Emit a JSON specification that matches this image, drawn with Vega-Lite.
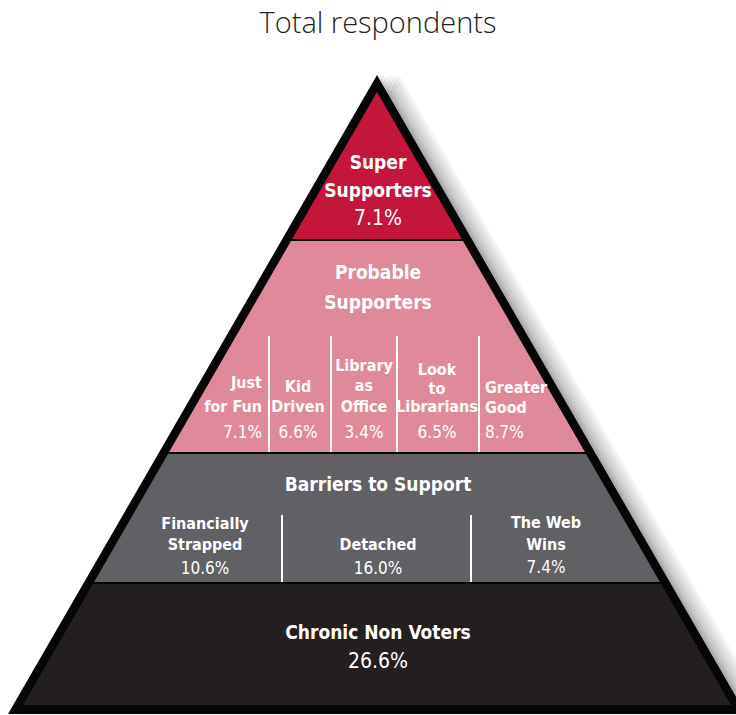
{
  "$schema": "https://vega.github.io/schema/vega-lite/v6.json",
  "width": 736,
  "height": 715,
  "padding": 0,
  "autosize": "none",
  "background": "white",
  "config": {"view": {"stroke": null}},
  "datasets": {
    "outline": [
      {"y": 75, "xl": 377, "xr": 377},
      {"y": 714, "xl": 8, "xr": 746}
    ],
    "tiers": [
      {"tier": "Super Supporters", "y": 92, "xl": 377, "xr": 377},
      {"tier": "Super Supporters", "y": 239, "xl": 292.1, "xr": 461.9},
      {"tier": "Probable Supporters", "y": 241, "xl": 291, "xr": 463},
      {"tier": "Probable Supporters", "y": 452, "xl": 169.1, "xr": 584.9},
      {"tier": "Barriers to Support", "y": 454, "xl": 168, "xr": 586},
      {"tier": "Barriers to Support", "y": 582, "xl": 94.1, "xr": 659.9},
      {"tier": "Chronic Non Voters", "y": 584, "xl": 92.9, "xr": 661.1},
      {"tier": "Chronic Non Voters", "y": 705, "xl": 23.1, "xr": 730.9}
    ],
    "dividers": [
      {"x": 269, "y1": 336, "y2": 452},
      {"x": 331, "y1": 336, "y2": 452},
      {"x": 397, "y1": 336, "y2": 452},
      {"x": 479, "y1": 336, "y2": 452},
      {"x": 282, "y1": 515, "y2": 582},
      {"x": 471, "y1": 515, "y2": 582}
    ],
    "labels": [
      {"level": "tier", "segment": "Super Supporters", "kind": "name", "text": "Super", "x": 378, "y": 163},
      {"level": "tier", "segment": "Super Supporters", "kind": "name", "text": "Supporters", "x": 378, "y": 191},
      {"level": "tier", "segment": "Super Supporters", "kind": "pct", "text": "7.1%", "x": 378, "y": 219},
      {"level": "tier", "segment": "Probable Supporters", "kind": "name", "text": "Probable", "x": 378, "y": 273},
      {"level": "tier", "segment": "Probable Supporters", "kind": "name", "text": "Supporters", "x": 378, "y": 303},
      {"level": "tier", "segment": "Barriers to Support", "kind": "name", "text": "Barriers to Support", "x": 378, "y": 485},
      {"level": "tier", "segment": "Chronic Non Voters", "kind": "name", "text": "Chronic Non Voters", "x": 378, "y": 633},
      {"level": "tier", "segment": "Chronic Non Voters", "kind": "pct", "text": "26.6%", "x": 378, "y": 662},
      {"level": "sub", "segment": "Just for Fun", "kind": "name", "text": "Just", "x": 262, "y": 383},
      {"level": "sub", "segment": "Just for Fun", "kind": "name", "text": "for Fun", "x": 262, "y": 407},
      {"level": "sub", "segment": "Just for Fun", "kind": "pct", "text": "7.1%", "x": 262, "y": 433},
      {"level": "sub", "segment": "Kid Driven", "kind": "name", "text": "Kid", "x": 298, "y": 387},
      {"level": "sub", "segment": "Kid Driven", "kind": "name", "text": "Driven", "x": 298, "y": 407},
      {"level": "sub", "segment": "Kid Driven", "kind": "pct", "text": "6.6%", "x": 298, "y": 433},
      {"level": "sub", "segment": "Library as Office", "kind": "name", "text": "Library", "x": 364, "y": 366},
      {"level": "sub", "segment": "Library as Office", "kind": "name", "text": "as", "x": 364, "y": 386},
      {"level": "sub", "segment": "Library as Office", "kind": "name", "text": "Office", "x": 364, "y": 407},
      {"level": "sub", "segment": "Library as Office", "kind": "pct", "text": "3.4%", "x": 364, "y": 433},
      {"level": "sub", "segment": "Look to Librarians", "kind": "name", "text": "Look", "x": 437, "y": 370},
      {"level": "sub", "segment": "Look to Librarians", "kind": "name", "text": "to", "x": 437, "y": 389},
      {"level": "sub", "segment": "Look to Librarians", "kind": "name", "text": "Librarians", "x": 437, "y": 407},
      {"level": "sub", "segment": "Look to Librarians", "kind": "pct", "text": "6.5%", "x": 437, "y": 433},
      {"level": "sub", "segment": "Greater Good", "kind": "name", "text": "Greater", "x": 485, "y": 388},
      {"level": "sub", "segment": "Greater Good", "kind": "name", "text": "Good", "x": 485, "y": 408},
      {"level": "sub", "segment": "Greater Good", "kind": "pct", "text": "8.7%", "x": 485, "y": 433},
      {"level": "sub", "segment": "Financially Strapped", "kind": "name", "text": "Financially", "x": 205, "y": 524},
      {"level": "sub", "segment": "Financially Strapped", "kind": "name", "text": "Strapped", "x": 205, "y": 545},
      {"level": "sub", "segment": "Financially Strapped", "kind": "pct", "text": "10.6%", "x": 205, "y": 569},
      {"level": "sub", "segment": "Detached", "kind": "name", "text": "Detached", "x": 378, "y": 545},
      {"level": "sub", "segment": "Detached", "kind": "pct", "text": "16.0%", "x": 378, "y": 569},
      {"level": "sub", "segment": "The Web Wins", "kind": "name", "text": "The Web", "x": 546, "y": 523},
      {"level": "sub", "segment": "The Web Wins", "kind": "name", "text": "Wins", "x": 546, "y": 545},
      {"level": "sub", "segment": "The Web Wins", "kind": "pct", "text": "7.4%", "x": 546, "y": 568}
    ],
    "heading": [
      {"text": "Total respondents", "x": 378, "y": 24}
    ]
  },
  "layer": [
    {
      "data": {"name": "outline"},
      "layer": [
        {"mark": {"type": "area", "orient": "horizontal", "color": "#000000", "opacity": 0.05, "xOffset": 22, "x2Offset": 22, "clip": true}},
        {"mark": {"type": "area", "orient": "horizontal", "color": "#000000", "opacity": 0.05, "xOffset": 18, "x2Offset": 18, "clip": true}},
        {"mark": {"type": "area", "orient": "horizontal", "color": "#000000", "opacity": 0.05, "xOffset": 14, "x2Offset": 14, "clip": true}},
        {"mark": {"type": "area", "orient": "horizontal", "color": "#000000", "opacity": 0.06, "xOffset": 10, "x2Offset": 10, "clip": true}},
        {"mark": {"type": "area", "orient": "horizontal", "color": "#000000", "opacity": 0.07, "xOffset": 6, "x2Offset": 6, "clip": true}},
        {"mark": {"type": "area", "orient": "horizontal", "color": "#000000", "opacity": 0.08, "xOffset": 3, "x2Offset": 3, "clip": true}},
        {"mark": {"type": "area", "orient": "horizontal", "color": "#060606", "opacity": 1, "clip": true}}
      ],
      "encoding": {
        "y": {"field": "y", "type": "quantitative", "scale": {"domain": [0, 715], "reverse": true}, "axis": null},
        "x": {"field": "xl", "type": "quantitative", "scale": {"domain": [0, 736]}, "axis": null, "stack": null},
        "x2": {"field": "xr"}
      }
    },
    {
      "data": {"name": "tiers"},
      "mark": {"type": "area", "orient": "horizontal", "opacity": 1, "clip": true},
      "encoding": {
        "y": {"field": "y", "type": "quantitative", "scale": {"domain": [0, 715], "reverse": true}, "axis": null},
        "x": {"field": "xl", "type": "quantitative", "scale": {"domain": [0, 736]}, "axis": null, "stack": null},
        "x2": {"field": "xr"},
        "color": {
          "field": "tier", "type": "nominal", "legend": null,
          "scale": {
            "domain": ["Super Supporters", "Probable Supporters", "Barriers to Support", "Chronic Non Voters"],
            "range": ["#C4153A", "#E0899A", "#616064", "#231F20"]
          }
        }
      }
    },
    {
      "data": {"name": "dividers"},
      "mark": {"type": "rule", "color": "white", "strokeWidth": 2},
      "encoding": {
        "x": {"field": "x", "type": "quantitative", "scale": {"domain": [0, 736]}, "axis": null},
        "y": {"field": "y1", "type": "quantitative", "scale": {"domain": [0, 715], "reverse": true}, "axis": null},
        "y2": {"field": "y2"}
      }
    },
    {
      "data": {"name": "labels"},
      "encoding": {
        "x": {"field": "x", "type": "quantitative", "scale": {"domain": [0, 736]}, "axis": null},
        "y": {"field": "y", "type": "quantitative", "scale": {"domain": [0, 715], "reverse": true}, "axis": null},
        "text": {"field": "text"}
      },
      "layer": [
        {
          "transform": [{"filter": "datum.level == 'tier' && datum.kind == 'name'"}],
          "mark": {"type": "text", "font": "DejaVu Sans Condensed, Roboto", "fontWeight": "bold", "fontSize": 19, "color": "white", "align": "center", "baseline": "middle"}
        },
        {
          "transform": [{"filter": "datum.level == 'tier' && datum.kind == 'pct'"}],
          "mark": {"type": "text", "font": "DejaVu Sans Condensed, Roboto", "fontWeight": "normal", "fontSize": 21, "color": "white", "align": "center", "baseline": "middle"}
        },
        {
          "transform": [{"filter": "datum.level == 'sub' && datum.kind == 'name' && datum.segment != 'Just for Fun' && datum.segment != 'Greater Good'"}],
          "mark": {"type": "text", "font": "DejaVu Sans Condensed, Roboto", "fontWeight": "bold", "fontSize": 16, "color": "white", "align": "center", "baseline": "middle"}
        },
        {
          "transform": [{"filter": "datum.level == 'sub' && datum.kind == 'pct' && datum.segment != 'Just for Fun' && datum.segment != 'Greater Good'"}],
          "mark": {"type": "text", "font": "DejaVu Sans Condensed, Roboto", "fontWeight": "normal", "fontSize": 17, "color": "white", "align": "center", "baseline": "middle"}
        },
        {
          "transform": [{"filter": "datum.segment == 'Just for Fun' && datum.kind == 'name'"}],
          "mark": {"type": "text", "font": "DejaVu Sans Condensed, Roboto", "fontWeight": "bold", "fontSize": 16, "color": "white", "align": "right", "baseline": "middle"}
        },
        {
          "transform": [{"filter": "datum.segment == 'Just for Fun' && datum.kind == 'pct'"}],
          "mark": {"type": "text", "font": "DejaVu Sans Condensed, Roboto", "fontWeight": "normal", "fontSize": 17, "color": "white", "align": "right", "baseline": "middle"}
        },
        {
          "transform": [{"filter": "datum.segment == 'Greater Good' && datum.kind == 'name'"}],
          "mark": {"type": "text", "font": "DejaVu Sans Condensed, Roboto", "fontWeight": "bold", "fontSize": 16, "color": "white", "align": "left", "baseline": "middle"}
        },
        {
          "transform": [{"filter": "datum.segment == 'Greater Good' && datum.kind == 'pct'"}],
          "mark": {"type": "text", "font": "DejaVu Sans Condensed, Roboto", "fontWeight": "normal", "fontSize": 17, "color": "white", "align": "left", "baseline": "middle"}
        }
      ]
    },
    {
      "data": {"name": "heading"},
      "mark": {"type": "text", "font": "Open Sans", "fontWeight": 300, "fontSize": 29, "color": "#231F20", "align": "center", "baseline": "middle"},
      "encoding": {
        "x": {"field": "x", "type": "quantitative", "scale": {"domain": [0, 736]}, "axis": null},
        "y": {"field": "y", "type": "quantitative", "scale": {"domain": [0, 715], "reverse": true}, "axis": null},
        "text": {"field": "text"}
      }
    }
  ]
}
